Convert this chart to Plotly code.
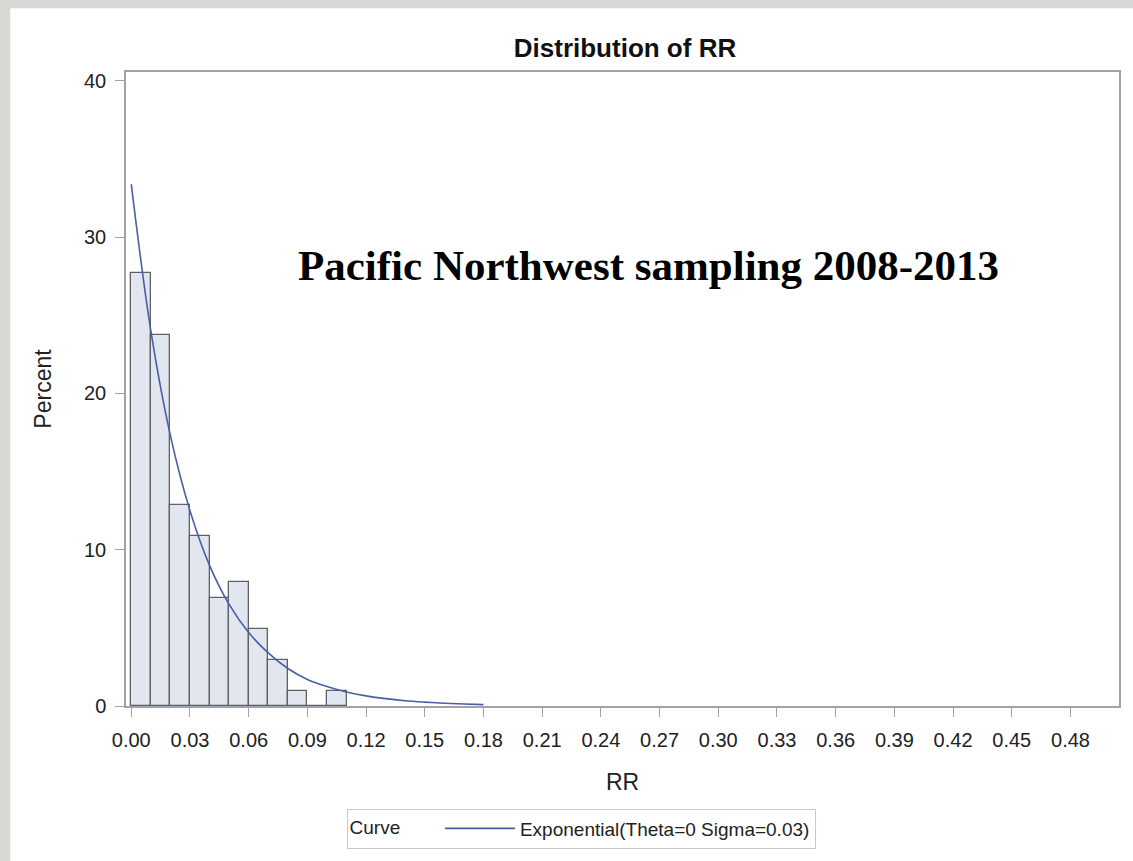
import plotly.graph_objects as go

# ---- data ----
bin_left = [0.00, 0.01, 0.02, 0.03, 0.04, 0.05, 0.06, 0.07, 0.08, 0.09, 0.10]
bin_width = 0.01
percent = [27.72, 23.76, 12.87, 10.89, 6.93, 7.92, 4.95, 2.97, 0.99, 0.0, 0.99]

curve_x = [0.00, 0.01, 0.02, 0.03, 0.04, 0.05, 0.06, 0.07, 0.08, 0.09,
           0.10, 0.11, 0.12, 0.13, 0.14, 0.15, 0.16, 0.17, 0.18]
curve_y = [33.4, 24.0, 17.3, 12.5, 9.0, 6.5, 4.7, 3.4, 2.4, 1.7,
           1.25, 0.9, 0.65, 0.47, 0.34, 0.25, 0.18, 0.13, 0.09]

x_ticks = [0.00, 0.03, 0.06, 0.09, 0.12, 0.15, 0.18, 0.21, 0.24, 0.27,
           0.30, 0.33, 0.36, 0.39, 0.42, 0.45, 0.48]
y_ticks = [0, 10, 20, 30, 40]

curve_name = "Exponential(Theta=0 Sigma=0.03)"
title_text = "Distribution of RR"
note_text = "Pacific Northwest sampling 2008-2013"

W, H = 1133, 861
L, R, T, B = 126, 12, 72, 152
pw, ph = W - L - R, H - T - B

def px_x(p):
    return (p - L) / pw

def px_y(p):
    return (H - B - p) / ph

AX = "#9ea4a9"
FONT = "Liberation Sans, Arial, sans-serif"

fig = go.Figure()
fig.add_trace(go.Bar(
    x=[b + bin_width / 2 for b in bin_left], y=percent, width=bin_width,
    marker=dict(color="#e1e6ef", line=dict(color="#5e6266", width=1.3)),
    showlegend=False, hoverinfo="x+y",
))
fig.add_trace(go.Scatter(
    x=curve_x, y=curve_y, mode="lines", name=curve_name,
    line=dict(color="#4a5ea6", width=1.6, shape="spline"),
))

fig.update_layout(
    width=W, height=H,
    margin=dict(l=L, r=R, t=T, b=B),
    paper_bgcolor="#d8d8d4", plot_bgcolor="white",
    font=dict(family=FONT, size=19, color="#222222"),
    title=dict(text="<b>" + title_text + "</b>", xref="container", x=625 / W,
               xanchor="center", y=1 - 48 / H, yanchor="middle",
               font=dict(size=26, color="#111111")),
    showlegend=True,
    legend=dict(
        orientation="h", x=px_x(582), xanchor="center", y=px_y(812), yanchor="top",
        bordercolor="#c8c8c8", borderwidth=1, bgcolor="white",
        title=dict(text="Curve      ", side="left", font=dict(size=19)),
        font=dict(size=19), itemwidth=70,
    ),
    bargap=0,
    shapes=[dict(type="rect", xref="paper", yref="paper",
                 x0=px_x(10), x1=px_x(1160), y0=px_y(900), y1=px_y(8),
                 fillcolor="white", line=dict(width=0), layer="below")],
    annotations=[dict(text="<b>" + note_text + "</b>", xref="paper", yref="paper",
                      x=px_x(650), y=px_y(266), xanchor="center", yanchor="middle",
                      showarrow=False,
                      font=dict(family="Liberation Serif, Times New Roman, serif",
                                size=43, color="black"))],
)
fig.update_xaxes(
    range=[-0.0027, 0.5048], tickvals=x_ticks, tickformat=".2f",
    showline=True, linecolor=AX, linewidth=1.5, mirror=True,
    ticks="outside", ticklen=9, tickcolor=AX, showgrid=False, zeroline=False,
    ticklabelstandoff=6,
    title=dict(text="RR", standoff=24), tickfont=dict(size=20),
)
fig.update_yaxes(
    range=[0, 40.57], tickvals=y_ticks,
    showline=True, linecolor=AX, linewidth=1.5, mirror=True,
    ticks="outside", ticklen=9, tickcolor=AX, showgrid=False, zeroline=False,
    ticklabelstandoff=5,
    title=dict(text="Percent", standoff=26), tickfont=dict(size=20),
)

fig.write_html("out.html", config={"displayModeBar": False},
               post_script="document.body.style.margin='0';document.body.style.padding='0';")
